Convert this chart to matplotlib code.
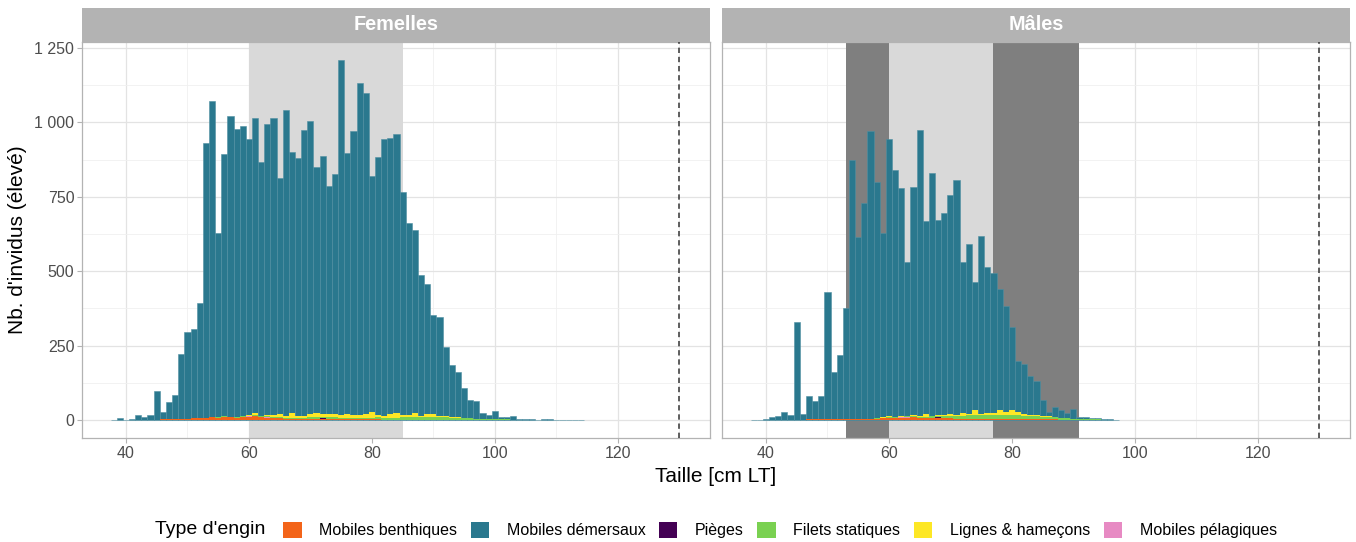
import matplotlib
matplotlib.use("Agg")
import matplotlib.pyplot as plt
from matplotlib.patches import Patch
from matplotlib.ticker import FuncFormatter, MultipleLocator
import numpy as np

plt.rcParams['font.family'] = ['Liberation Sans', 'DejaVu Sans']

# --- donnees (nb d'individus par classe de 1 cm) ---
engins = ["Mobiles benthiques", "Mobiles démersaux", "Pièges",
          "Filets statiques", "Lignes & hameçons", "Mobiles pélagiques"]
couleurs = ["#F36419", "#2A788E", "#440154", "#7AD151", "#FDE725", "#E78AC3"]

fem_demersaux_start = 38
fem_demersaux = [1, 8, 0, 4, 16, 9, 18, 96, 27, 60,
                 83, 222, 295, 305, 394, 930, 1073, 629, 893, 1023,
                 979, 988, 945, 1014, 868, 995, 1015, 814, 1043, 902,
                 880, 974, 1006, 851, 888, 787, 827, 1210, 898, 972,
                 1133, 1100, 819, 883, 945, 949, 962, 767, 663, 638,
                 487, 457, 352, 345, 246, 185, 161, 108, 68, 65,
                 22, 16, 30, 11, 9, 13, 5, 5, 5, 0,
                 2, 2, 0, 1, 0, 0, 1]
fem_benthiques_start = 44
fem_benthiques = [1, 1, 2, 3, 4, 4, 5, 6, 7, 8, 10, 8, 11, 9, 7, 9, 11, 12, 9, 8,
                  7, 6, 5, 5, 4, 4, 4, 3, 3, 3, 3, 2, 2, 2, 2, 2, 2, 2, 1, 1,
                  1, 1, 1, 1, 1, 1, 1]
fem_pelagiques_start = 58
fem_pelagiques = [1, 2, 2, 2, 1, 1, 1, 1]
fem_pieges_start = 70
fem_pieges = [1, 2, 3, 2, 1]
fem_filets_start = 55
fem_filets = [1, 1, 1, 1, 2, 2, 2, 2, 3, 3, 3, 3, 3, 4, 4, 4, 4, 5, 5, 5,
              5, 5, 6, 6, 6, 6, 7, 7, 7, 7, 8, 8, 8, 8, 8, 9, 9, 9, 8, 8,
              7, 6, 5, 4, 3, 3, 2, 2, 1, 1]
fem_lignes_start = 58
fem_lignes = [1, 2, 3, 8, 3, 6, 5, 10, 6, 14, 5, 6, 12, 13, 8, 10, 11, 9, 13, 8,
              9, 12, 20, 8, 6, 11, 14, 8, 8, 14, 6, 10, 9, 6, 3, 2, 1, 1]

mal_demersaux_start = 38
mal_demersaux = [0, 1, 4, 11, 13, 27, 18, 330, 20, 81,
                 63, 81, 430, 163, 220, 375, 874, 614, 729, 971,
                 800, 627, 945, 840, 780, 530, 782, 974, 669, 829,
                 672, 695, 757, 805, 530, 590, 464, 619, 515, 493,
                 439, 384, 314, 199, 188, 148, 132, 67, 27, 45,
                 34, 22, 36, 11, 9, 7, 7, 2, 2, 1]
mal_benthiques_start = 45
mal_benthiques = [1, 1, 2, 2, 2, 2, 3, 3, 4, 4, 4, 5, 5, 5, 6, 6, 6, 7, 8, 10,
                  6, 6, 7, 8, 8, 6, 5, 5, 5, 5, 5, 4, 4, 4, 4, 4, 3, 3, 3, 3,
                  2, 2, 2, 1, 1, 1]
mal_pelagiques_start = 60
mal_pelagiques = [1, 1, 2, 1, 1]
mal_pieges_start = 66
mal_pieges = [1, 1, 1]
mal_filets_start = 58
mal_filets = [1, 1, 2, 2, 2, 3, 3, 3, 4, 5, 6, 7, 8, 9, 10, 11, 12, 13, 14, 14,
              14, 14, 14, 13, 12, 11, 10, 9, 8, 7, 6, 5, 4, 4, 3, 2, 2, 1, 1]
mal_lignes_start = 58
mal_lignes = [0, 2, 6, 1, 2, 1, 2, 3, 8, 2, 3, 3, 5, 4, 8, 5, 15, 3, 4, 6,
              17, 9, 17, 10, 6, 4, 3, 2, 2, 1]

panels = [
    ("Femelles", [(fem_demersaux_start, fem_demersaux)],
     [(fem_benthiques_start, fem_benthiques, couleurs[0]),
      (fem_pelagiques_start, fem_pelagiques, couleurs[5]),
      (fem_pieges_start, fem_pieges, couleurs[2]),
      (fem_filets_start, fem_filets, couleurs[3]),
      (fem_lignes_start, fem_lignes, couleurs[4])],
     [(60, 85, "#d9d9d9")]),
    ("Mâles", [(mal_demersaux_start, mal_demersaux)],
     [(mal_benthiques_start, mal_benthiques, couleurs[0]),
      (mal_pelagiques_start, mal_pelagiques, couleurs[5]),
      (mal_pieges_start, mal_pieges, couleurs[2]),
      (mal_filets_start, mal_filets, couleurs[3]),
      (mal_lignes_start, mal_lignes, couleurs[4])],
     [(53, 60, "#7f7f7f"), (60, 77, "#d9d9d9"), (77, 91, "#7f7f7f")]),
]
taille_max = 130

W, H = 1356, 542
fig = plt.figure(figsize=(W / 100, H / 100), dpi=100)

lefts = [82, 722]
pw = 628
for i, (nom, dem, petits, zones) in enumerate(panels):
    ax = fig.add_axes([lefts[i] / W, 1 - 438 / H, pw / W, 396 / H])
    ax.set_xlim(32.85, 135.0)
    ax.set_ylim(-60.5, 1270.5)
    ax.xaxis.set_major_locator(MultipleLocator(20))
    ax.xaxis.set_minor_locator(MultipleLocator(10))
    ax.yaxis.set_major_locator(MultipleLocator(250))
    ax.yaxis.set_minor_locator(MultipleLocator(125))
    ax.grid(which='major', color='#e3e3e3', linewidth=0.9, zorder=0)
    ax.grid(which='minor', color='#f0f0f0', linewidth=0.6, zorder=0)
    ax.set_axisbelow(True)
    for a, b, c in zones:
        ax.axvspan(a, b, color=c, zorder=1, lw=0)
    for start, vals in dem:
        x = np.arange(start, start + len(vals))
        ax.bar(x, vals, width=1.0, color=couleurs[1], edgecolor='#4f8fa2',
               linewidth=0.4, zorder=2)
    base = {}
    for start, vals, c in petits:
        x = np.arange(start, start + len(vals))
        b = np.array([base.get(k, 0) for k in x])
        ax.bar(x, vals, bottom=b, width=1.0, color=c, linewidth=0, zorder=3)
        for k, v in zip(x, vals):
            base[k] = base.get(k, 0) + v
    ax.axvline(taille_max, color='#333333', linestyle=(0, (3.5, 2.5)),
               linewidth=1.1, zorder=4)
    for s in ax.spines.values():
        s.set_color('#b3b3b3')
        s.set_linewidth(0.9)
    ax.tick_params(which='major', length=3.5, color='#b3b3b3',
                   labelcolor='#4d4d4d', labelsize=11.5, pad=2)
    ax.tick_params(which='minor', length=0)
    if i == 0:
        ax.yaxis.set_major_formatter(
            FuncFormatter(lambda v, p: f"{int(v):,}".replace(",", " ")))
    else:
        ax.tick_params(axis='y', which='major', labelleft=False, length=0)

    sax = fig.add_axes([lefts[i] / W, 1 - 42 / H, pw / W, 34 / H])
    sax.set_facecolor('#b3b3b3')
    sax.set_xticks([])
    sax.set_yticks([])
    for s in sax.spines.values():
        s.set_visible(False)
    sax.text(0.5, 0.5, nom, color='white', fontsize=14.3, fontweight='bold',
             ha='center', va='center', transform=sax.transAxes)

fig.text(716 / W, 1 - 476 / H, "Taille [cm LT]", ha='center', va='center',
         fontsize=15)
fig.text(18 / W, 1 - 240 / H, "Nb. d'invidus (élevé)", ha='center',
         va='center', rotation=90, fontsize=15)

fig.text(155 / W, 1 - 530 / H, "Type d'engin", ha='left', va='center',
         fontsize=14)
handles = [Patch(facecolor=c, edgecolor='none') for c in couleurs]
fig.legend(handles, engins, loc='center', ncol=6,
           bbox_to_anchor=(780 / W, 1 - 530 / H), frameon=False,
           fontsize=11.5, handlelength=1.15, handleheight=1.15,
           handletextpad=1.1, columnspacing=0.85, borderpad=0)

fig.savefig("out.png", dpi=100)
